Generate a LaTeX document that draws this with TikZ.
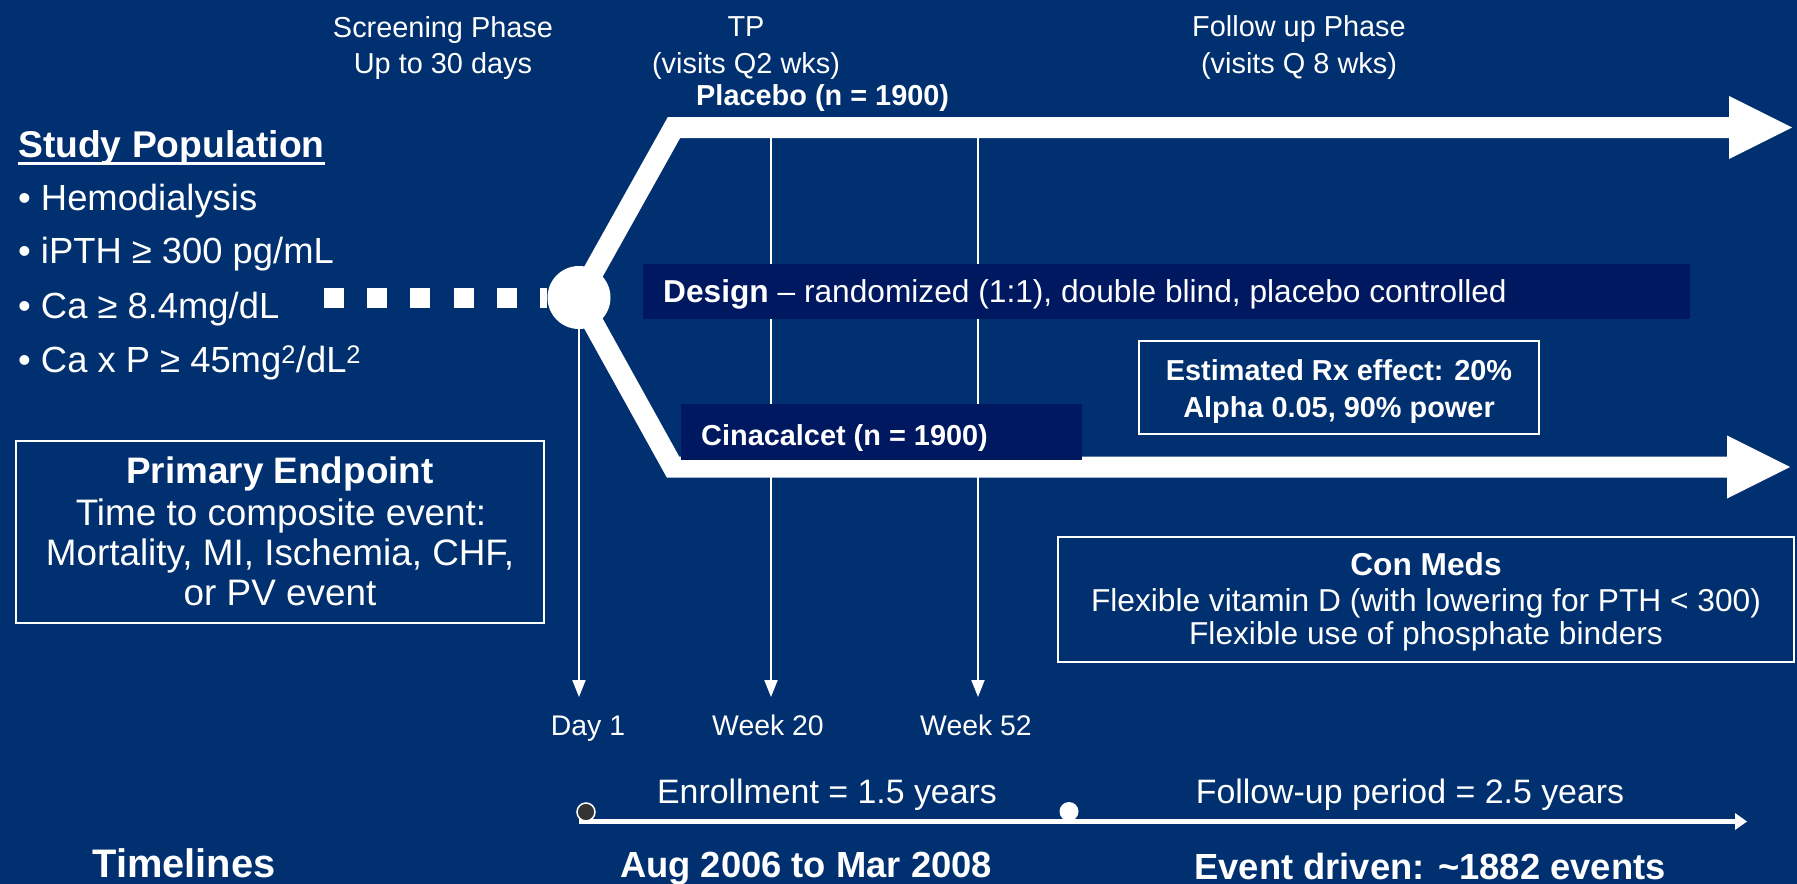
\documentclass[tikz,border=0pt]{standalone}
\usepackage{fontspec}
\setmainfont{Liberation Sans}
\usetikzlibrary{arrows.meta}
\definecolor{bgblue}{RGB}{0,48,111}
\definecolor{darkband}{RGB}{0,24,96}
\definecolor{dotgray}{RGB}{52,52,52}
\begin{document}
\begin{tikzpicture}[x=1bp,y=-1bp,
  txt/.style={text=white, inner sep=0pt, anchor=base},
  txtl/.style={text=white, inner sep=0pt, anchor=base west},
  fsa/.style={font=\fontsize{29}{34}\selectfont},
  fsd/.style={font=\fontsize{28.5}{34}\selectfont},
  fsb/.style={font=\fontsize{31.8}{37}\selectfont},
  fsc/.style={font=\fontsize{34}{40}\selectfont},
  fse/.style={font=\fontsize{36.5}{43}\selectfont},
  fsp/.style={font=\fontsize{37}{44}\selectfont},
  fsf/.style={font=\fontsize{37.4}{44}\selectfont\bfseries},
  fsg/.style={font=\fontsize{40}{48}\selectfont\bfseries},
  thin/.style={draw=white, line width=2bp, -{Triangle[length=17bp,width=13bp]}},
  wband/.style={draw=white, line width=21bp, line join=miter, line cap=butt,
                -{Triangle[length=63bp,width=63bp,line width=0pt]}},
  darkbox/.style={fill=darkband, draw=none, inner sep=0pt},
  frame/.style={draw=white, line width=2bp, inner sep=0pt, fill=none},
]
% background
\fill[bgblue] (0,0) rectangle (1797,884);
\useasboundingbox (0,0) rectangle (1797,884);

% randomisation point
\coordinate (rc) at (579,297.5);

% thin vertical lines (drawn first, bands cover them)
\coordinate (w20top) at (771,128);
\coordinate (w52top) at (978,128);
\coordinate (d1end) at (579,697);
\coordinate (w20end) at (771,697);
\coordinate (w52end) at (978,697);
\draw[thin] (rc) -- (d1end);
\draw[thin] (w20top) -- (w20end);
\draw[thin] (w52top) -- (w52end);

% white branch bands
\coordinate (pcorner) at (674,127.5);
\coordinate (pend) at (1792,127.5);
\coordinate (ccorner) at (673,467);
\coordinate (cend) at (1790,467);
\draw[wband] (rc) -- (pcorner) -- (pend);
\draw[wband] (rc) -- (ccorner) -- (cend);

% dark bands
\node[darkbox, minimum width=1047bp, minimum height=55bp] (design) at (1166.5,291.5) {};
\node[darkbox, minimum width=401bp, minimum height=56bp] (cinabox) at (881.5,432) {};

% circle and dashes
\node[circle, fill=white, inner sep=0pt, minimum size=63bp] (rand) at (rc) {};
\coordinate (dstart) at (324,297.5);
\draw[white, line width=20bp, dash pattern=on 20bp off 23.2bp] (dstart) -- (rand.west);

% frames
\node[frame, minimum width=528bp, minimum height=182bp] (pebox) at (280,532) {};
\node[frame, minimum width=400bp, minimum height=93bp] (rxbox) at (1339,387.5) {};
\node[frame, minimum width=736bp, minimum height=125bp] (cmbox) at (1426,599.5) {};

% header texts
\node[txt, fsa] (scr1) at (443,37) {Screening Phase};
\node[txt, fsa] (scr2) at (443,73) {Up to 30 days};
\node[txt, fsa] (tp1) at (746,36) {TP};
\node[txt, fsa] (tp2) at (746,73) {(visits Q2 wks)};
\node[txt, fsa] (fu1) at (1299,36) {Follow up Phase};
\node[txt, fsa] (fu2) at (1299,73) {(visits Q 8 wks)};
\node[txtl, font=\fontsize{29}{34}\selectfont\bfseries] (plac) at (696,105) {Placebo (n = 1900)};

% study population
\node[txtl, fsf] (sp) at (18,157) {Study Population};
\draw[white, line width=3bp] ([yshift=-6bp]sp.base west) -- ([yshift=-6bp]sp.base east);
\node[txtl, fse] (b1) at (18,210) {• Hemodialysis};
\node[txtl, fse] (b2) at (18,263) {• iPTH ≥ 300 pg/mL};
\node[txtl, fse] (b3) at (18,318) {• Ca ≥ 8.4mg/dL};
\node[txtl, fse] (b4) at (18,372) {• Ca x P ≥ 45mg\textsuperscript{2}/dL\textsuperscript{2}};

% design and arms
\node[txtl, fsb] (dtext) at (663,302) {\textbf{Design} – randomized (1:1), double blind, placebo controlled};
\node[txtl, font=\fontsize{29}{34}\selectfont\bfseries] (cina) at (701,445) {Cinacalcet (n = 1900)};

% estimated box
\node[txt, font=\fontsize{29}{34}\selectfont\bfseries] (rx1) at (1339,380) {Estimated Rx effect: 20\%};
\node[txt, font=\fontsize{29}{34}\selectfont\bfseries] (rx2) at (1339,417) {Alpha 0.05, 90\% power};

% primary endpoint
\node[txt, font=\fontsize{37}{44}\selectfont\bfseries] (pe1) at (280,483) {Primary Endpoint};
\node[txt, fsp] (pe2) at (281,525) {Time to composite event:};
\node[txt, fsp] (pe3) at (280,565) {Mortality, MI, Ischemia, CHF,};
\node[txt, fsp] (pe4) at (280,605) {or PV event};

% con meds
\node[txt, font=\fontsize{31.8}{37}\selectfont\bfseries] (cm1) at (1426,575) {Con Meds};
\node[txt, fsb] (cm2) at (1426,611) {Flexible vitamin D (with lowering for PTH < 300)};
\node[txt, fsb] (cm3) at (1426,644) {Flexible use of phosphate binders};

% visit labels
\node[txt, fsd] (lday1) at (588,735) {Day 1};
\node[txt, fsd] (lw20) at (768,735) {Week 20};
\node[txt, fsd] (lw52) at (976,735) {Week 52};

% bottom timeline
\coordinate (tl0) at (579,821.5);
\coordinate (tl1) at (1747,821.5);
\draw[draw=white, line width=5.5bp, -{Triangle[length=12bp,width=17bp,line width=0pt]}] (tl0) -- (tl1);
\node[circle, fill=dotgray, draw=white, line width=1.5bp, inner sep=0pt, minimum size=18bp] (dotl) at (586,812) {};
\node[circle, fill=white, inner sep=0pt, minimum size=19bp] (dotr) at (1069,811.5) {};

\node[txt, fsc] (enr) at (827,803) {Enrollment = 1.5 years};
\node[txt, fsc] (fup) at (1410,803) {Follow-up period = 2.5 years};
\node[txt, fsg] (tlines) at (184,877) {Timelines};
\node[txt, font=\fontsize{36.5}{43}\selectfont\bfseries] (aug) at (806,877) {Aug 2006 to Mar 2008};
\node[txt, font=\fontsize{36.5}{43}\selectfont\bfseries] (evt) at (1430,879) {Event driven: \textasciitilde1882 events};
\end{tikzpicture}
\end{document}
